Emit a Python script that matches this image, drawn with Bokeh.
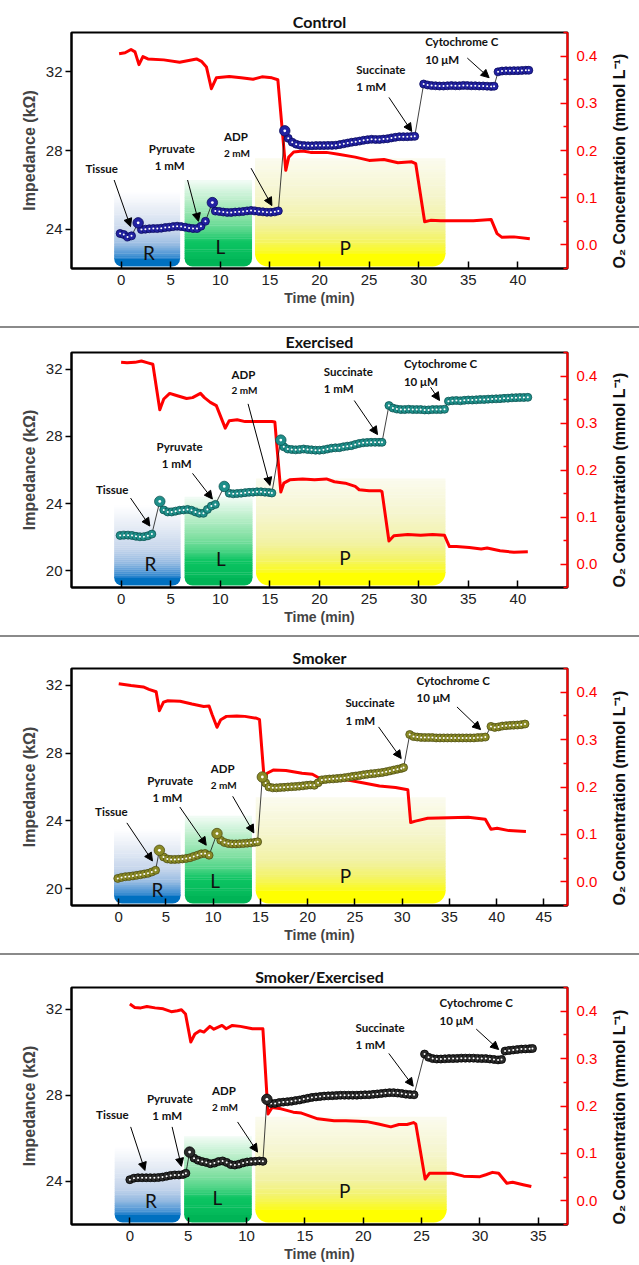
import math
from bokeh.plotting import figure
from bokeh.models import (Range1d, LinearAxis, FixedTicker, Label, Arrow, NormalHead,
                          ColumnDataSource, Div, NumeralTickFormatter)
from bokeh.layouts import column
from bokeh.embed import file_html
from bokeh.resources import INLINE

# ---------------------------------------------------------------- data
# ---- Control
CONTROL_T = [-0.1, 0.27, 0.65, 1.05,
             2.05, 2.45, 2.85, 3.25, 3.65, 4.05, 4.45, 4.85, 5.25, 5.65, 6.05, 6.45, 6.85, 7.25, 7.65, 8.05, 8.5,
             9.5, 9.9, 10.3, 10.7, 11.1, 11.5, 11.9, 12.3, 12.7, 13.1, 13.5, 13.9, 14.3, 14.7, 15.1, 15.5, 15.85,
             16.85, 17.25, 17.65, 18.05, 18.45, 18.85, 19.25, 19.65, 20.05, 20.45, 20.85, 21.25, 21.65, 22.05,
             22.45, 22.85, 23.25, 23.65, 24.05, 24.45, 24.85, 25.25, 25.65, 26.05, 26.45, 26.85, 27.25, 27.65,
             28.05, 28.45, 28.85, 29.25, 29.6,
             30.5, 30.9, 31.3, 31.7, 32.1, 32.5, 32.9, 33.3, 33.7, 34.1, 34.5, 34.9, 35.3, 35.7, 36.1, 36.5,
             36.9, 37.3, 37.6,
             38.0, 38.4, 38.8, 39.2, 39.6, 40.0, 40.4, 40.8, 41.1]
CONTROL_Z = [23.78, 23.73, 23.6, 23.66,
             23.98, 24.0, 24.02, 24.03, 24.03, 24.05, 24.08, 24.1, 24.13, 24.15, 24.13, 24.1, 24.06, 24.03, 24.03, 24.15, 24.4,
             24.92, 24.9, 24.87, 24.85, 24.85, 24.87, 24.88, 24.9, 24.93, 24.95, 24.93, 24.9, 24.88, 24.86, 24.86, 24.88, 24.93,
             28.62, 28.42, 28.32, 28.27, 28.25, 28.24, 28.24, 28.25, 28.25, 28.25, 28.26, 28.26, 28.27, 28.3,
             28.34, 28.38, 28.42, 28.45, 28.48, 28.52, 28.55, 28.57, 28.56, 28.56, 28.58, 28.6, 28.64, 28.67,
             28.7, 28.7, 28.7, 28.71, 28.72,
             31.38, 31.33, 31.3, 31.29, 31.28, 31.28, 31.29, 31.3, 31.29, 31.29, 31.31, 31.3, 31.29, 31.29, 31.28, 31.28,
             31.27, 31.26, 31.27,
             32.0, 32.04, 32.05, 32.05, 32.06, 32.06, 32.07, 32.08, 32.08]
CONTROL_SPIKE_T = [1.72, 9.2, 16.5]
CONTROL_SPIKE_Z = [24.32, 25.35, 29.0]
CONTROL_O2_T = [-0.2, 0.4, 1.0, 1.4, 1.8, 2.2, 2.7, 4.3, 5.9, 7.6, 8.1, 8.6, 9.1, 9.6, 10.9, 12.1, 13.3, 14.2,
                15.2, 15.8, 16.6, 16.9, 17.4, 18.3, 19.1, 20.7, 21.9, 23.6, 25.0, 26.5, 27.9, 29.3, 29.7, 30.6,
                31.2, 32.2, 33.8, 35.5, 37.3, 37.9, 38.4, 39.6, 41.2]
CONTROL_O2 = [0.405, 0.407, 0.414, 0.409, 0.382, 0.399, 0.394, 0.392, 0.387, 0.394, 0.389, 0.377, 0.331, 0.354,
              0.357, 0.354, 0.351, 0.356, 0.354, 0.35, 0.158, 0.186, 0.197, 0.199, 0.196, 0.196, 0.192, 0.186,
              0.179, 0.181, 0.174, 0.176, 0.172, 0.049, 0.052, 0.051, 0.051, 0.051, 0.054, 0.024, 0.016, 0.017, 0.013]
CONTROL_PHASE_START = [-0.7, 6.4, 13.5]
CONTROL_PHASE_END = [5.95, 13.2, 32.7]
CONTROL_PHASE_TOP = [25.9, 26.5, 27.6]
CONTROL_LETTER_X = [2.8, 10.0, 22.6]
CONTROL_LETTER_Y = [22.8, 23.1, 23.05]
CONTROL_NOTE_X = [-3.6, 2.79, 3.4, 10.38, 10.38, 23.71, 23.71, 30.65, 30.65]
CONTROL_NOTE_Y = [27.08, 28.1, 27.22, 28.71, 27.87, 32.13, 31.24, 33.53, 32.64]
CONTROL_ARROWS = [(-0.7, 26.5, 0.95, 24.13), (6.7, 26.5, 7.8, 24.4), (13.1, 27.1, 15.2, 25.2),
                  (27.0, 30.7, 29.3, 28.97), (34.9, 32.7, 37.1, 31.7)]

# ---- Exercised
EXERCISED_T = [-0.1, 0.3, 0.7, 1.1, 1.5, 1.9, 2.3, 2.7, 3.1,
               4.3, 4.7, 5.1, 5.5, 5.9, 6.3, 6.7, 7.1, 7.5, 7.9, 8.3, 8.7, 9.1, 9.5,
               10.9, 11.3, 11.7, 12.1, 12.5, 12.9, 13.3, 13.7, 14.1, 14.5, 14.9, 15.2,
               16.4, 16.8, 17.2, 17.6, 18.0, 18.4, 18.8, 19.2, 19.6, 20.0, 20.4, 20.8, 21.2, 21.6, 22.0, 22.4,
               22.8, 23.2, 23.6, 24.0, 24.4, 24.8, 25.2, 25.6, 26.0, 26.3,
               27.0, 27.4, 27.8, 28.2, 28.6, 29.0, 29.4, 29.8, 30.2, 30.6, 31.0, 31.4, 31.8, 32.2, 32.6,
               33.0, 33.4, 33.8, 34.2, 34.6, 35.0, 35.4, 35.8, 36.2, 36.6, 37.0, 37.4, 37.8, 38.2, 38.6, 39.0,
               39.4, 39.8, 40.2, 40.6, 41.0]
EXERCISED_Z = [22.1, 22.12, 22.12, 22.1, 22.05, 22.02, 22.03, 22.08, 22.18,
               23.62, 23.5, 23.5, 23.55, 23.6, 23.62, 23.65, 23.6, 23.5, 23.42, 23.42, 23.65, 23.85, 23.95,
               24.62, 24.58, 24.6, 24.62, 24.65, 24.67, 24.68, 24.7, 24.7, 24.68, 24.66, 24.63,
               27.38, 27.25, 27.22, 27.2, 27.22, 27.25, 27.22, 27.2, 27.18, 27.18, 27.2, 27.25, 27.3, 27.32, 27.33, 27.38,
               27.42, 27.45, 27.52, 27.58, 27.62, 27.64, 27.65, 27.65, 27.65, 27.65,
               29.84, 29.69, 29.63, 29.6, 29.6, 29.62, 29.6, 29.6, 29.6, 29.58, 29.58, 29.6, 29.6, 29.6, 29.62,
               30.1, 30.13, 30.14, 30.12, 30.15, 30.17, 30.17, 30.18, 30.2, 30.2, 30.22, 30.23, 30.24, 30.25, 30.27, 30.28,
               30.3, 30.31, 30.32, 30.32, 30.33]
EXERCISED_SPIKE_T = [3.9, 10.4, 16.1]
EXERCISED_SPIKE_Z = [24.13, 25.02, 27.78]
EXERCISED_O2_T = [0.0, 0.6, 1.4, 2.05, 2.7, 3.2, 3.9, 4.3, 4.9, 5.5, 6.6, 7.2, 8.0, 8.4, 9.0, 9.6, 10.5, 10.9,
                  11.7, 12.5, 13.7, 15.2, 15.5, 16.1, 16.4, 17.0, 18.3, 19.5, 20.7, 21.5, 22.6, 23.6, 24.0, 25.0,
                  26.1, 26.3, 27.0, 27.5, 28.9, 30.2, 31.4, 32.6, 33.1, 33.8, 35.1, 36.3, 36.9, 38.2, 39.6, 41.0]
EXERCISED_O2 = [0.429, 0.428, 0.429, 0.432, 0.428, 0.425, 0.328, 0.351, 0.363, 0.359, 0.352, 0.354, 0.363, 0.354,
                0.344, 0.337, 0.289, 0.305, 0.307, 0.303, 0.303, 0.303, 0.302, 0.153, 0.172, 0.179, 0.181, 0.179,
                0.181, 0.175, 0.172, 0.165, 0.158, 0.156, 0.156, 0.154, 0.049, 0.06, 0.063, 0.061, 0.063, 0.061,
                0.037, 0.037, 0.035, 0.032, 0.034, 0.028, 0.025, 0.026]
EXERCISED_PHASE_START = [-0.7, 6.4, 13.6]
EXERCISED_PHASE_END = [6.0, 13.25, 32.7]
EXERCISED_PHASE_TOP = [23.9, 24.4, 25.5]
EXERCISED_LETTER_X = [2.95, 10.05, 22.56]
EXERCISED_LETTER_Y = [20.45, 20.75, 20.8]
EXERCISED_NOTE_X = [-2.54, 3.57, 4.1, 11.12, 11.12, 20.43, 20.43, 28.51, 28.51]
EXERCISED_NOTE_Y = [24.82, 27.42, 26.4, 31.71, 30.77, 31.87, 30.87, 32.32, 31.28]
EXERCISED_ARROWS = [(0.95, 24.33, 2.9, 22.66), (7.2, 25.8, 9.2, 24.27), (12.8, 29.94, 15.0, 25.08),
                    (23.5, 30.14, 25.85, 28.11), (31.2, 30.93, 32.1, 30.14)]

# ---- Smoker
SMOKER_T = [-0.1, 0.3, 0.7, 1.1, 1.5, 1.9, 2.3, 2.7, 3.1, 3.5, 3.9,
            4.74, 5.14, 5.54, 5.94, 6.34, 6.74, 7.14, 7.54, 7.94, 8.34, 8.74, 9.14, 9.56,
            10.8, 11.2, 11.6, 12.0, 12.4, 12.8, 13.2, 13.6, 14.0, 14.4, 14.7,
            15.55, 15.9, 16.3, 16.7, 17.1, 17.5, 17.9, 18.3, 18.7, 19.1, 19.5, 19.9, 20.3, 20.7, 21.1, 21.5,
            21.9, 22.3, 22.7, 23.1, 23.5, 23.9, 24.3, 24.7, 25.1, 25.5, 25.9, 26.3, 26.7, 27.1, 27.5, 27.9,
            28.3, 28.7, 29.1, 29.5, 29.9, 30.15,
            30.8, 31.2, 31.6, 32.0, 32.4, 32.8, 33.2, 33.6, 34.0, 34.4, 34.8, 35.2, 35.6, 36.0, 36.4, 36.8,
            37.2, 37.6, 38.0, 38.4, 38.8,
            39.4, 39.8, 40.2, 40.6, 41.0, 41.4, 41.8, 42.2, 42.6, 43.0]
SMOKER_Z = [20.6, 20.66, 20.7, 20.72, 20.75, 20.78, 20.82, 20.86, 20.9, 20.98, 21.08,
            21.87, 21.75, 21.72, 21.72, 21.73, 21.75, 21.78, 21.82, 21.9, 21.97, 22.05, 22.07, 21.97,
            22.85, 22.72, 22.66, 22.64, 22.64, 22.65, 22.66, 22.68, 22.7, 22.73, 22.76,
            26.24, 26.0, 25.95, 25.95, 25.97, 25.98, 26.0, 26.02, 26.03, 26.05, 26.07, 26.1, 26.12, 26.1, 26.25, 26.42,
            26.45, 26.47, 26.48, 26.5, 26.52, 26.55, 26.58, 26.62, 26.65, 26.68, 26.72, 26.75, 26.78, 26.8, 26.83, 26.86,
            26.9, 26.95, 27.0, 27.05, 27.1, 27.15,
            29.1, 28.98, 28.95, 28.93, 28.92, 28.92, 28.92, 28.9, 28.9, 28.9, 28.9, 28.9, 28.9, 28.9, 28.9, 28.9,
            28.9, 28.9, 28.92, 28.93, 28.95,
            29.58, 29.52, 29.55, 29.6, 29.62, 29.64, 29.65, 29.66, 29.68, 29.72]
SMOKER_SPIKE_T = [4.3, 10.4, 15.2]
SMOKER_SPIKE_Z = [22.26, 23.25, 26.59]
SMOKER_O2_T = [0.0, 1.3, 2.6, 3.2, 3.96, 4.3, 4.74, 5.2, 6.5, 7.75, 9.0, 9.56, 9.9, 10.4, 10.8, 11.4, 12.5, 13.35,
               14.6, 14.9, 15.4, 15.7, 16.4, 17.7, 19.4, 20.5, 21.3, 22.4, 24.1, 25.8, 27.6, 29.3, 30.6, 30.9,
               31.4, 32.7, 34.9, 37.0, 38.8, 39.4, 40.05, 41.3, 43.1]
SMOKER_O2 = [0.418, 0.414, 0.411, 0.406, 0.401, 0.361, 0.379, 0.382, 0.381, 0.375, 0.37, 0.371, 0.352, 0.326,
             0.342, 0.349, 0.35, 0.349, 0.345, 0.342, 0.215, 0.229, 0.236, 0.235, 0.229, 0.227, 0.218, 0.218,
             0.215, 0.209, 0.202, 0.199, 0.194, 0.125, 0.128, 0.134, 0.135, 0.136, 0.132, 0.111, 0.113, 0.108, 0.106]
SMOKER_PHASE_START = [-0.5, 7.0, 14.5]
SMOKER_PHASE_END = [6.55, 14.1, 34.6]
SMOKER_PHASE_TOP = [23.5, 24.3, 25.4]
SMOKER_LETTER_X = [4.1, 10.2, 24.0]
SMOKER_LETTER_Y = [19.95, 20.45, 20.8]
SMOKER_NOTE_X = [-2.5, 3.01, 3.57, 9.73, 9.73, 23.99, 23.99, 31.52, 31.52]
SMOKER_NOTE_Y = [24.53, 26.4, 25.39, 27.09, 26.1, 31.0, 29.94, 32.3, 31.26]
SMOKER_ARROWS = [(0.86, 23.88, 3.57, 21.63), (6.46, 24.82, 9.26, 22.56), (12.06, 25.45, 14.3, 23.29),
                 (27.5, 29.55, 29.9, 27.68), (35.8, 30.73, 38.3, 29.39)]

# ---- Smoker/Exercised
SMOKEX_T = [0.0, 0.35, 0.7, 1.05, 1.4, 1.75, 2.1, 2.45, 2.8, 3.15, 3.5, 3.85, 4.2, 4.55, 4.8,
            5.5, 5.85, 6.2, 6.55, 6.9, 7.25, 7.6, 7.95, 8.3, 8.65, 9.0, 9.35, 9.7, 10.05, 10.4, 10.75, 11.1, 11.4,
            12.1, 12.45, 12.8, 13.15, 13.5, 13.85, 14.2, 14.55, 14.9, 15.25, 15.6, 15.95, 16.3, 16.65, 17.0,
            17.35, 17.7, 18.05, 18.4, 18.75, 19.1, 19.45, 19.8, 20.15, 20.5, 20.85, 21.2, 21.55, 21.9, 22.25,
            22.6, 22.95, 23.3, 23.65, 24.0, 24.35,
            25.25, 25.6, 25.95, 26.3, 26.65, 27.0, 27.35, 27.7, 28.05, 28.4, 28.75, 29.1, 29.45, 29.8, 30.15,
            30.5, 30.85, 31.2, 31.55, 31.85,
            32.15, 32.5, 32.85, 33.2, 33.55, 33.9, 34.25, 34.5]
SMOKEX_Z = [24.08, 24.15, 24.17, 24.17, 24.17, 24.17, 24.17, 24.18, 24.2, 24.24, 24.28, 24.3, 24.3, 24.32, 24.38,
            25.08, 24.98, 24.92, 24.88, 24.82, 24.85, 24.92, 24.95, 24.88, 24.78, 24.76, 24.8, 24.86, 24.9, 24.92, 24.93, 24.95, 24.93,
            27.62, 27.62, 27.66, 27.68, 27.7, 27.72, 27.75, 27.78, 27.82, 27.86, 27.9, 27.92, 27.94, 27.96, 27.97,
            27.98, 27.99, 28.0, 28.0, 28.0, 28.0, 28.0, 28.01, 28.02, 28.02, 28.04, 28.06, 28.08, 28.1, 28.12,
            28.12, 28.1, 28.08, 28.05, 28.03, 28.02,
            29.91, 29.76, 29.7, 29.68, 29.68, 29.69, 29.7, 29.7, 29.71, 29.72, 29.72, 29.72, 29.72, 29.71, 29.7,
            29.7, 29.68, 29.66, 29.64, 29.66,
            30.05, 30.08, 30.1, 30.12, 30.14, 30.15, 30.16, 30.17]
SMOKEX_SPIKE_T = [5.12, 11.74]
SMOKEX_SPIKE_Z = [25.36, 27.81]
SMOKEX_O2_T = [0.0, 0.42, 0.94, 1.46, 2.16, 2.86, 3.55, 4.08, 4.42, 4.77, 5.22, 5.57, 6.0, 6.34, 6.86, 7.2, 7.9,
               8.25, 8.78, 9.47, 10.5, 11.4, 11.84, 12.19, 12.96, 14.0, 14.7, 16.1, 17.5, 18.5, 19.6, 20.3, 21.3,
               22.36, 23.06, 23.75, 24.3, 24.5, 25.3, 25.67, 26.5, 27.6, 28.6, 30.0, 30.5, 31.07, 31.6, 32.3,
               32.8, 33.7, 34.4]
SMOKEX_O2 = [0.415, 0.408, 0.407, 0.41, 0.407, 0.405, 0.399, 0.401, 0.403, 0.394, 0.335, 0.352, 0.359, 0.356,
             0.368, 0.362, 0.37, 0.363, 0.37, 0.368, 0.363, 0.363, 0.183, 0.197, 0.194, 0.187, 0.185, 0.173,
             0.169, 0.169, 0.168, 0.167, 0.162, 0.156, 0.161, 0.161, 0.165, 0.162, 0.046, 0.058, 0.058, 0.058,
             0.052, 0.051, 0.055, 0.06, 0.058, 0.037, 0.039, 0.034, 0.03]
SMOKEX_PHASE_START = [-1.3, 4.65, 10.75]
SMOKEX_PHASE_END = [4.35, 10.45, 27.15]
SMOKEX_PHASE_TOP = [25.6, 26.1, 27.0]
SMOKEX_LETTER_X = [1.8, 7.5, 18.4]
SMOKEX_LETTER_Y = [23.1, 23.25, 23.6]
SMOKEX_NOTE_X = [-2.89, 1.46, 1.92, 7.04, 7.04, 19.33, 19.33, 26.54, 26.54]
SMOKEX_NOTE_Y = [27.12, 27.85, 27.04, 28.2, 27.46, 31.15, 30.36, 32.31, 31.49]
SMOKEX_ARROWS = [(0.07, 26.53, 1.29, 24.51), (3.62, 26.53, 4.42, 24.7), (9.23, 26.76, 10.94, 25.36),
                 (22.19, 29.94, 24.28, 28.42), (29.68, 31.07, 31.6, 30.12)]

NOTE_TEXTS = ["Tissue", "Pyruvate", "1 mM", "ADP", "2 mM", "Succinate", "1 mM", "Cytochrome C", "10 μM"]
PHASE_LETTERS = ["R", "L", "P"]
O2_TICKS = [0.0, 0.1, 0.2, 0.3, 0.4]
O2_MINOR = [-0.05, 0.05, 0.15, 0.25, 0.35, 0.45]

# ---------------------------------------------------------------- style
PAGE_W = 639
BORDER_L, BORDER_R = 71, 72
FRAME_W = PAGE_W - BORDER_L - BORDER_R
AX_FONT = "Liberation Sans"
NOTE_FONT = "Lato"

PHASE_STOPS = [
    [(0.0, "#ffffff"), (0.3, "#e2e9f4"), (0.55, "#c3d4eb"), (0.72, "#93b9e1"), (0.84, "#4a94d4"),
     (0.93, "#0a74c4"), (1.0, "#0070c0")],
    [(0.0, "#f3fcf6"), (0.22, "#bdefcc"), (0.45, "#83e0a3"), (0.6, "#4fd487"), (0.72, "#0cc462"),
     (1.0, "#00b456")],
    [(0.0, "#fbfbef"), (0.35, "#f5f5cc"), (0.6, "#f2f2a4"), (0.75, "#f3f36a"), (0.87, "#fbfb22"),
     (1.0, "#ffff00")],
]
PHASE_RADIUS = [8, 8, 13]


def grad(stops, f):
    f = min(max(f, 0.0), 1.0)
    for (f0, c0), (f1, c1) in zip(stops[:-1], stops[1:]):
        if f <= f1:
            t = 0 if f1 == f0 else (f - f0) / (f1 - f0)
            a = [int(c0[i:i + 2], 16) for i in (1, 3, 5)]
            b = [int(c1[i:i + 2], 16) for i in (1, 3, 5)]
            return "#%02x%02x%02x" % tuple(round(a[k] + (b[k] - a[k]) * t) for k in range(3))
    return stops[-1][1]


AXIS_PROPS = LinearAxis.properties()
HAS_LABEL_ORIENT = "axis_label_orientation" in AXIS_PROPS
HAS_LABEL_ALIGN = "axis_label_align" in AXIS_PROPS


def build_panel(title, xr, yr, xticks, yticks, bead_t, bead_z, spike_t, spike_z, o2_t, o2_v,
                ph_start, ph_end, ph_top, let_x, let_y, note_x, note_y, arrows,
                fill, edge, height, btop, bbot):
    assert len(bead_t) == len(bead_z), title
    assert len(o2_t) == len(o2_v), title
    fh = height - btop - bbot
    x0, x1 = xr
    y0, y1 = yr
    pxy = fh / (y1 - y0)
    p = figure(width=PAGE_W, height=height, x_range=Range1d(x0, x1), y_range=Range1d(y0, y1),
               output_backend="svg", toolbar_location=None,
               min_border_left=BORDER_L, min_border_right=BORDER_R,
               min_border_top=btop, min_border_bottom=bbot)
    p.title.text = title
    p.title.align = "center"
    p.title.text_font = NOTE_FONT
    p.title.text_font_style = "bold"
    p.title.text_font_size = "16px"
    p.title.text_color = "#111111"
    p.title.standoff = 3
    p.title.offset = 0
    p.extra_y_ranges = {"o2": Range1d(-0.05, 0.45)}
    p.xgrid.visible = False
    p.ygrid.visible = False
    p.outline_line_color = "black"
    p.outline_line_width = 2
    p.background_fill_color = "white"
    p.border_fill_color = "white"

    xa = p.xaxis[0]
    xa.ticker = FixedTicker(ticks=xticks)
    xa.major_tick_in = 7
    xa.major_tick_out = 0
    xa.minor_tick_line_color = None
    xa.axis_line_width = 2
    xa.major_tick_line_width = 1.5
    xa.major_label_text_font = AX_FONT
    xa.major_label_text_font_size = "15px"
    xa.major_label_text_color = "#222222"
    xa.major_label_standoff = 6
    xa.axis_label = "Time (min)"
    xa.axis_label_text_font = AX_FONT
    xa.axis_label_text_font_style = "bold"
    xa.axis_label_text_font_size = "14px"
    xa.axis_label_standoff = 2

    ya = p.yaxis[0]
    ya.ticker = FixedTicker(ticks=yticks)
    ya.major_tick_in = 0
    ya.major_tick_out = 6
    ya.minor_tick_line_color = None
    ya.axis_line_width = 2
    ya.major_tick_line_width = 1.5
    ya.major_label_text_font = AX_FONT
    ya.major_label_text_font_size = "15px"
    ya.major_label_text_color = "#222222"
    ya.major_label_standoff = 3
    ya.axis_label = "Impedance (kΩ)"
    ya.axis_label_text_font = AX_FONT
    ya.axis_label_text_font_style = "bold"
    ya.axis_label_text_font_size = "16px"
    ya.axis_label_standoff = 5

    ra = LinearAxis(y_range_name="o2", ticker=FixedTicker(ticks=O2_TICKS, minor_ticks=O2_MINOR),
                    formatter=NumeralTickFormatter(format="0.0"))
    ra.axis_line_color = "red"
    ra.axis_line_width = 2
    ra.major_tick_line_color = "red"
    ra.major_tick_line_width = 1.5
    ra.major_tick_in = 7
    ra.major_tick_out = 0
    ra.minor_tick_line_color = "red"
    ra.minor_tick_line_width = 1.5
    ra.minor_tick_in = 4
    ra.minor_tick_out = 0
    ra.major_label_text_color = "red"
    ra.major_label_text_font = AX_FONT
    ra.major_label_text_font_size = "15px"
    ra.major_label_standoff = 9
    ra.axis_label = "O₂ Concentration (mmol L⁻¹)"
    ra.axis_label_text_font = AX_FONT
    ra.axis_label_text_font_style = "bold"
    ra.axis_label_text_font_size = "16px"
    ra.axis_label_text_color = "#111111"
    ra.axis_label_standoff = 19
    if HAS_LABEL_ORIENT:
        ra.axis_label_orientation = math.pi / 2
        if HAS_LABEL_ALIGN:
            ra.axis_label_align = "start"
    p.add_layout(ra, "right")

    # phase boxes with vertical gradients (stacked strips)
    bottom = y0 + 2.0 / pxy
    L, R, T, B, C = [], [], [], [], []
    for i in range(3):
        stops = PHASE_STOPS[i]
        r = PHASE_RADIUS[i]
        top = ph_top[i]
        span = top - bottom
        piece = r / pxy
        n = 40
        for k in range(n):
            yt = top - span * k / n
            if yt <= bottom + piece:
                break
            yb = max(top - span * (k + 1) / n - 0.4 / pxy, bottom + piece - 0.5 / pxy)
            L.append(ph_start[i]); R.append(ph_end[i]); T.append(yt); B.append(yb)
            C.append(grad(stops, (k + 0.5) / n))
        p.quad(left=[ph_start[i]], right=[ph_end[i]], top=[bottom + piece], bottom=[bottom],
               fill_color=grad(stops, 1.0), line_color=None, border_radius=(0, 0, r, r))
    p.quad(left=L, right=R, top=T, bottom=B, fill_color=C, line_color=None)

    # O2 trace
    p.line(o2_t, o2_v, y_range_name="o2", line_color="#ff0000", line_width=3, line_join="round")

    # impedance: connecting thin line + beads
    pts = sorted(list(zip(bead_t, bead_z)) + list(zip(spike_t, spike_z)))
    p.line([a for a, _ in pts], [b for _, b in pts], line_color="#111111", line_width=0.8)
    p.scatter(bead_t, bead_z, size=8, fill_color=fill, line_color=edge, line_width=0.8)
    p.scatter(bead_t, bead_z, size=2.0, fill_color="white", line_color=None)
    p.scatter(spike_t, spike_z, size=10.5, fill_color=fill, line_color=edge, line_width=0.8)
    p.scatter(spike_t, spike_z, size=2.8, fill_color="white", line_color=None)

    # arrows
    src = ColumnDataSource(dict(xs=[a[0] for a in arrows], ys=[a[1] for a in arrows],
                                xe=[a[2] for a in arrows], ye=[a[3] for a in arrows]))
    p.add_layout(Arrow(end=NormalHead(size=8, fill_color="black", line_color="black", line_width=1),
                       x_start="xs", y_start="ys", x_end="xe", y_end="ye", source=src,
                       line_color="black", line_width=1))

    # notes
    for txt, nx, ny in zip(NOTE_TEXTS, note_x, note_y):
        p.add_layout(Label(x=nx, y=ny, text=txt, text_font=NOTE_FONT, text_font_style="bold",
                           text_font_size="10px" if txt == "2 mM" else "11.5px",
                           text_align="left", text_baseline="middle", text_color="#111111"))
    for txt, lx, ly in zip(PHASE_LETTERS, let_x, let_y):
        p.add_layout(Label(x=lx, y=ly, text=txt, text_font=NOTE_FONT, text_font_size="19px",
                           text_align="center", text_baseline="middle", text_color="#111111"))
    return p


p1 = build_panel("Control", (-5, 45), (22, 34), list(range(0, 45, 5)), [24, 28, 32],
                 CONTROL_T, CONTROL_Z, CONTROL_SPIKE_T, CONTROL_SPIKE_Z, CONTROL_O2_T, CONTROL_O2,
                 CONTROL_PHASE_START, CONTROL_PHASE_END, CONTROL_PHASE_TOP,
                 CONTROL_LETTER_X, CONTROL_LETTER_Y, CONTROL_NOTE_X, CONTROL_NOTE_Y, CONTROL_ARROWS,
                 "#2222a2", "#0b0b5e", 326, 32, 58)
p2 = build_panel("Exercised", (-5, 45), (19, 33), list(range(0, 45, 5)), [20, 24, 28, 32],
                 EXERCISED_T, EXERCISED_Z, EXERCISED_SPIKE_T, EXERCISED_SPIKE_Z, EXERCISED_O2_T, EXERCISED_O2,
                 EXERCISED_PHASE_START, EXERCISED_PHASE_END, EXERCISED_PHASE_TOP,
                 EXERCISED_LETTER_X, EXERCISED_LETTER_Y, EXERCISED_NOTE_X, EXERCISED_NOTE_Y, EXERCISED_ARROWS,
                 "#1f8f8a", "#0d5553", 307, 23, 48)
p3 = build_panel("Smoker", (-5, 47.5), (19, 33), list(range(0, 50, 5)), [20, 24, 28, 32],
                 SMOKER_T, SMOKER_Z, SMOKER_SPIKE_T, SMOKER_SPIKE_Z, SMOKER_O2_T, SMOKER_O2,
                 SMOKER_PHASE_START, SMOKER_PHASE_END, SMOKER_PHASE_TOP,
                 SMOKER_LETTER_X, SMOKER_LETTER_Y, SMOKER_NOTE_X, SMOKER_NOTE_Y, SMOKER_ARROWS,
                 "#8a8a26", "#4f4f14", 316, 31, 48)
p4 = build_panel("Smoker/Exercised", (-5, 37.5), (22, 33), list(range(0, 40, 5)), [24, 28, 32],
                 SMOKEX_T, SMOKEX_Z, SMOKEX_SPIKE_T, SMOKEX_SPIKE_Z, SMOKEX_O2_T, SMOKEX_O2,
                 SMOKEX_PHASE_START, SMOKEX_PHASE_END, SMOKEX_PHASE_TOP,
                 SMOKEX_LETTER_X, SMOKEX_LETTER_Y, SMOKEX_NOTE_X, SMOKEX_NOTE_Y, SMOKEX_ARROWS,
                 "#2b2b2b", "#000000", 310, 32, 41)


def sep():
    return Div(text="", width=PAGE_W, height=2, margin=(0, 0, 0, 0),
               styles={"background-color": "#8a8a8a"})


layout = column(p1, sep(), p2, sep(), p3, sep(), p4, spacing=0)
open("out.html", "w").write(file_html(layout, INLINE))
